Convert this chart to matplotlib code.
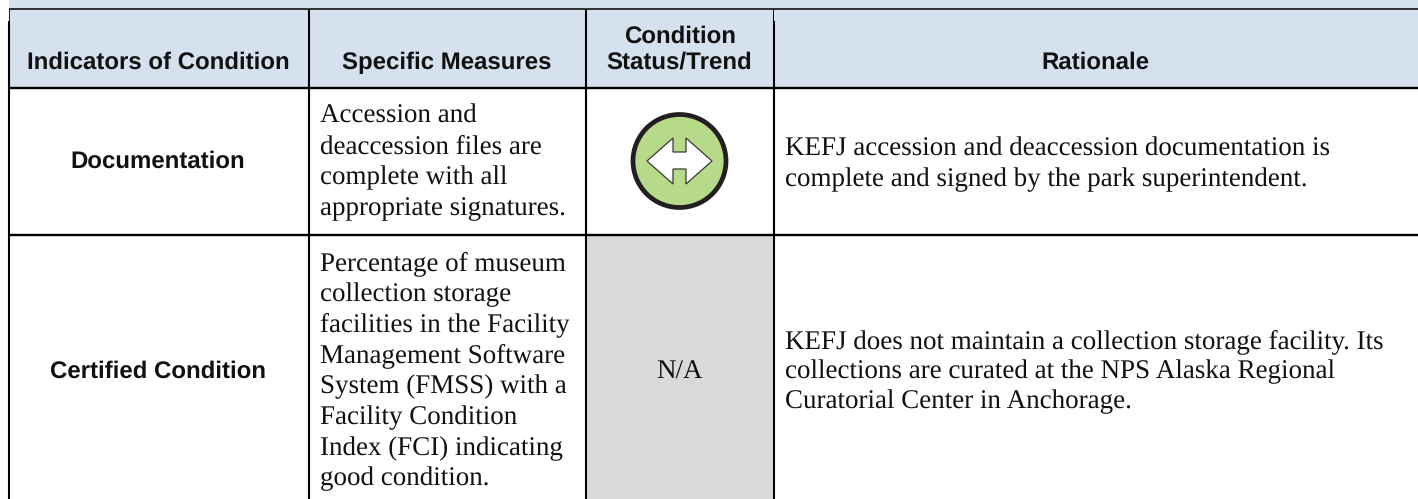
# plot.py
#
# Condition summary table, drawn on a pixel-sized axes.
#

import matplotlib
matplotlib.use('Agg')           # non-interactive backend
import matplotlib.pyplot as plt
from matplotlib.patches import Circle, Polygon, Rectangle

plt.rcParams['text.hinting'] = 'no_hinting'
plt.rcParams['text.hinting_factor'] = 1

headers = ['Indicators of Condition', 'Specific Measures',
           'Condition\nStatus/Trend', 'Rationale']
indicators = ['Documentation', 'Certified Condition']
measures = [
    ['Accession and', 'deaccession files are', 'complete with all',
     'appropriate signatures.'],
    ['Percentage of museum', 'collection storage', 'facilities in the Facility',
     'Management Software', 'System (FMSS) with a', 'Facility Condition',
     'Index (FCI) indicating', 'good condition.'],
]
rationales = [
    ['KEFJ accession and deaccession documentation is',
     'complete and signed by the park superintendent.'],
    ['KEFJ does not maintain a collection storage facility. Its',
     'collections are curated at the NPS Alaska Regional',
     'Curatorial Center in Anchorage.'],
]
status_na = 'N/A'

W, H = 1418, 499
col_x = [8.5, 308.5, 586, 773.5]
row_y = [8.5, 88, 235]
SANS = 'Liberation Sans'
SERIF = 'Liberation Serif'
SANS_SIZE = 17.3
SERIF_SIZE = 19.1
INK = '#111111'
HEAD_BG = '#D5E1EF'
GREY_BG = '#D9D9D9'
GREEN = '#B6D98A'
DARK = '#231F20'


def hline(ax, y, x0, x1, lw):
    ax.plot([x0, x1], [y, y], color='black', lw=lw, solid_capstyle='butt')


def vline(ax, x, y0, y1, lw):
    ax.plot([x, x], [y0, y1], color='black', lw=lw, solid_capstyle='butt')


def draw_lines(ax, x, baseline, lines, spacing, **kw):
    for i, line in enumerate(lines):
        ax.text(x, baseline + i * spacing, line, va='baseline', color=INK, **kw)


def draw_trend_icon(ax, cx, cy):
    """Green 'stable' circle with the white double-headed arrow."""
    ax.add_patch(Circle((cx, cy), 46.5, facecolor=GREEN, edgecolor=DARK, lw=3.4))
    arrow = [(-32.5, 0), (-6.5, -23), (-6.5, -9), (6.5, -9), (6.5, -23), (32.5, 0),
             (6.5, 23), (6.5, 8), (-6.5, 8), (-6.5, 23)]
    ax.add_patch(Polygon([(cx + dx, cy + dy) for dx, dy in arrow], closed=True,
                         facecolor='white', edgecolor='#3a3a36', lw=0.9))


fig = plt.figure(figsize=(W / 100, H / 100), dpi=100)
ax = fig.add_axes([0, 0, 1, 1])
ax.set_xlim(0, W)
ax.set_ylim(H, 0)
ax.axis('off')

# backgrounds
ax.add_patch(Rectangle((9, 0), W - 9, row_y[1], facecolor=HEAD_BG, edgecolor='none'))
ax.add_patch(Rectangle((col_x[2], row_y[2]), col_x[3] - col_x[2], H - row_y[2],
                       facecolor=GREY_BG, edgecolor='none'))

# rules
hline(ax, row_y[0], 9, W, 1.1)
hline(ax, row_y[1], 8, W, 1.7)
hline(ax, row_y[2], 8, W, 1.7)
for x in col_x:
    vline(ax, x, 21, H, 1.5)
# the short stubs above the thick part of the rules are thinner
vline(ax, col_x[0] + 0.5, row_y[0], 21, 0.6)
vline(ax, col_x[1], row_y[0], 21, 1.5)
vline(ax, col_x[2], row_y[0], 21, 1.5)
vline(ax, col_x[3] - 0.7, row_y[0], 21, 0.7)

# header row
head_x = [158, 447, 679.5, 1095]
for x, label in zip(head_x, headers):
    lines = label.split('\n')
    base = 69 - (len(lines) - 1) * 26
    for i, line in enumerate(lines):
        ax.text(x, base + i * 26, line, ha='center', va='baseline', color=INK,
                family=SANS, weight='bold', fontsize=SANS_SIZE)

# body rows
for text, base in zip(indicators, [168, 378]):
    ax.text(158, base, text, ha='center', va='baseline', color=INK,
            family=SANS, weight='bold', fontsize=SANS_SIZE)
for lines, base in zip(measures, [123, 270]):
    draw_lines(ax, 320, base, lines, 30.8, family=SERIF, fontsize=SERIF_SIZE)
for lines, base in zip(rationales, [155.5, 348]):
    draw_lines(ax, 785, base, lines, 30.2, family=SERIF, fontsize=SERIF_SIZE)

draw_trend_icon(ax, 679.5, 161)
ax.text(679.5, 379, status_na, ha='center', va='baseline', color=INK,
        family=SERIF, fontsize=SERIF_SIZE)

fig.savefig('out.png', dpi=100)
